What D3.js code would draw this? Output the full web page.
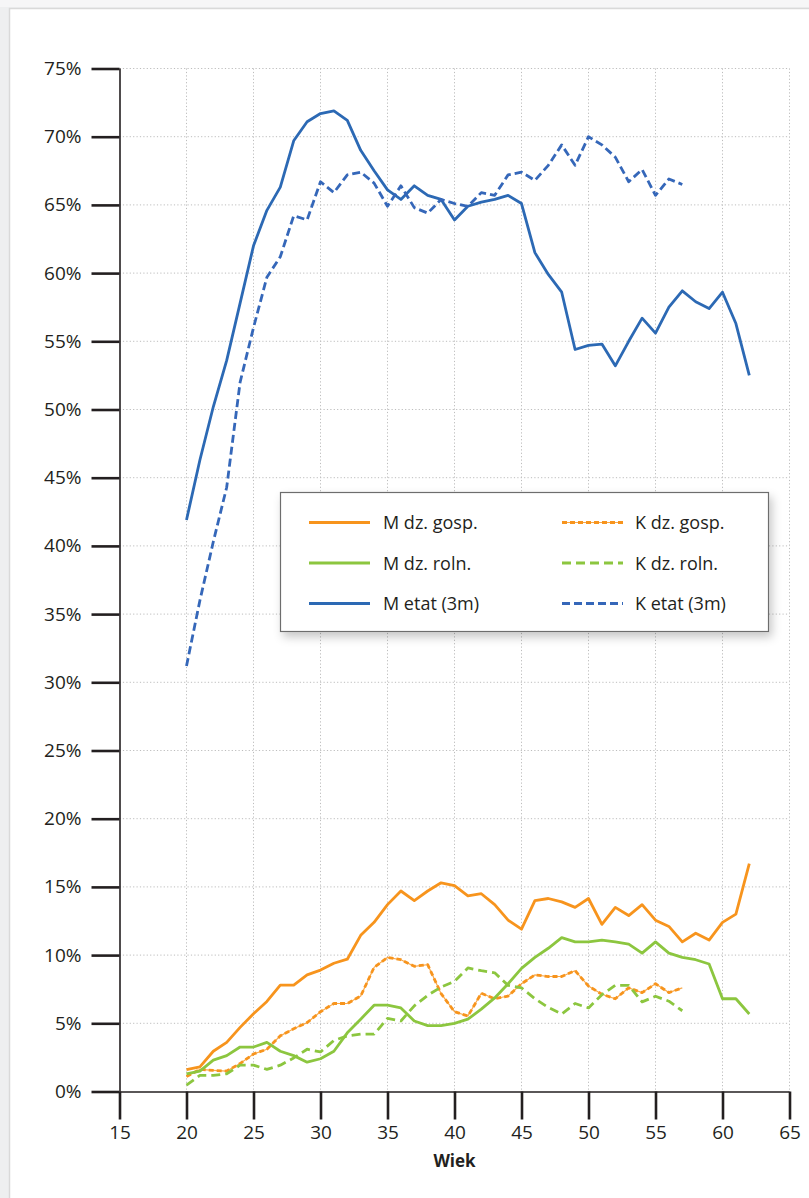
<!DOCTYPE html>
<html>
<head>
<meta charset="utf-8">
<script src="https://cdn.jsdelivr.net/npm/d3@7"></script>
<style>
  html, body { margin: 0; padding: 0; background: #eeeff0; }
  svg { display: block; }
  text { font-family: "Open Sans", sans-serif; fill: #231f20; }
</style>
</head>
<body>
<div id="chart-area"></div>
<script>
// dane (udzial w %), wiek od 20
const ageStart = 20;
const mGosp = [1.6, 1.8, 2.95, 3.6, 4.7, 5.7, 6.6, 7.8, 7.8, 8.55, 8.9, 9.4, 9.7, 11.45, 12.4, 13.7, 14.7, 14.0, 14.7, 15.3, 15.1, 14.35, 14.5, 13.7, 12.56, 11.9, 14.0, 14.15, 13.9, 13.5, 14.15, 12.25, 13.5, 12.9, 13.7, 12.56, 12.1, 10.97, 11.6, 11.1, 12.4, 13.0, 16.7];
const kGosp = [1.1, 1.62, 1.55, 1.5, 2.05, 2.75, 3.1, 4.08, 4.6, 5.05, 5.85, 6.45, 6.45, 7.0, 9.1, 9.83, 9.66, 9.18, 9.3, 7.17, 5.85, 5.53, 7.2, 6.8, 7.0, 7.9, 8.55, 8.43, 8.43, 8.86, 7.73, 7.13, 6.8, 7.6, 7.25, 7.9, 7.25, 7.6];
const mRoln = [1.3, 1.5, 2.3, 2.63, 3.26, 3.26, 3.6, 2.95, 2.63, 2.15, 2.4, 2.95, 4.3, 5.3, 6.33, 6.33, 6.13, 5.17, 4.83, 4.83, 5.0, 5.3, 6.04, 6.86, 7.9, 9.03, 9.83, 10.5, 11.28, 10.97, 10.97, 11.1, 10.97, 10.8, 10.14, 10.97, 10.14, 9.83, 9.66, 9.35, 6.8, 6.8, 5.68];
const kRoln = [0.46, 1.18, 1.18, 1.3, 1.93, 1.93, 1.62, 1.93, 2.46, 3.1, 2.9, 3.74, 4.08, 4.2, 4.2, 5.36, 5.17, 6.28, 7.05, 7.66, 8.07, 9.06, 8.86, 8.7, 7.78, 7.6, 6.8, 6.16, 5.68, 6.45, 6.13, 7.1, 7.78, 7.78, 6.57, 6.98, 6.62, 5.92];
const mEtat = [41.9, 46.3, 50.2, 53.6, 57.8, 62.0, 64.6, 66.3, 69.7, 71.1, 71.7, 71.9, 71.2, 69.0, 67.5, 66.1, 65.4, 66.4, 65.7, 65.4, 63.9, 64.9, 65.2, 65.4, 65.7, 65.1, 61.5, 59.9, 58.6, 54.4, 54.7, 54.8, 53.2, 55.0, 56.7, 55.6, 57.5, 58.7, 57.9, 57.4, 58.6, 56.3, 52.5];
const kEtat = [31.2, 36.0, 40.3, 44.3, 52.0, 56.0, 59.7, 61.2, 64.2, 63.9, 66.7, 65.9, 67.2, 67.4, 66.6, 64.9, 66.4, 64.8, 64.4, 65.4, 65.1, 64.9, 65.9, 65.7, 67.2, 67.4, 66.8, 67.9, 69.4, 67.9, 70.0, 69.4, 68.5, 66.7, 67.6, 65.7, 66.9, 66.5];

const xTicks = [15, 20, 25, 30, 35, 40, 45, 50, 55, 60, 65];
const yTicks = [0, 5, 10, 15, 20, 25, 30, 35, 40, 45, 50, 55, 60, 65, 70, 75];

const orange = "#f7941d", green = "#8cc63f", blue = "#2c69b4", blue2 = "#3567b9";

// serie: nazwa, dane, kolor, styl
const series = [
  {name: "M dz. gosp.", values: mGosp, color: orange, dash: null},
  {name: "K dz. gosp.", values: kGosp, color: orange, dash: "5,3", thin: true},
  {name: "M dz. roln.", values: mRoln, color: green, dash: null},
  {name: "K dz. roln.", values: kRoln, color: green, dash: "9,5"},
  {name: "M etat (3m)", values: mEtat, color: blue, dash: null},
  {name: "K etat (3m)", values: kEtat, color: blue2, dash: "8,4"}
];

const W = 809, H = 1198;
let svg = d3.select("#chart-area").append("svg")
  .attr("width", W)
  .attr("height", H);

// cien pod legenda
let defs = svg.append("defs");
defs.append("filter").attr("id", "shadow")
  .attr("x", "-10%").attr("y", "-10%").attr("width", "130%").attr("height", "140%")
  .append("feDropShadow")
  .attr("dx", 3).attr("dy", 5).attr("stdDeviation", 5)
  .attr("flood-color", "#000").attr("flood-opacity", 0.22);

// tlo i karta
svg.append("rect").attr("width", W).attr("height", H).attr("fill", "#eeeff0");
svg.append("rect").attr("width", W).attr("height", 7).attr("fill", "#f6f6f7");
svg.append("rect")
  .attr("x", 9.5).attr("y", 8.5)
  .attr("width", W).attr("height", H)
  .attr("fill", "#fff")
  .attr("stroke", "#d9d9d9").attr("stroke-width", 1.5);

let x = d3.scaleLinear().domain([15, 65]).range([119.5, 789.5]);
let y = d3.scaleLinear().domain([0, 75]).range([1091.5, 68.5]);

// siatka
let grid = svg.append("g").attr("stroke", "#bdbdbd").attr("stroke-width", 1).attr("stroke-dasharray", "1.2,2.2");
grid.selectAll(".gx").data(xTicks.filter(d => d > 15)).enter()
  .append("line")
  .attr("x1", d => x(d)).attr("x2", d => x(d))
  .attr("y1", y(75)).attr("y2", y(0));
grid.selectAll(".gy").data(yTicks.filter(d => d > 0)).enter()
  .append("line")
  .attr("x1", x(15)).attr("x2", x(65))
  .attr("y1", d => y(d)).attr("y2", d => y(d));

// osie
let xAxis = d3.axisBottom(x).tickValues(xTicks).tickSize(28).tickPadding(6).tickFormat(d3.format("d"));
let yAxis = d3.axisLeft(y).tickValues(yTicks).tickSize(28).tickPadding(10).tickFormat(d => d + "%");

let gx = svg.append("g").attr("transform", `translate(0,${y(0)})`).call(xAxis);
let gy = svg.append("g").attr("transform", `translate(${x(15)},0)`).call(yAxis);

[gx, gy].forEach(g => {
  g.select(".domain").attr("stroke", "#231f20").attr("stroke-width", 1.6);
  g.selectAll(".tick line").attr("stroke", "#231f20").attr("stroke-width", 2.6);
  g.selectAll(".tick text")
    .attr("font-family", "Open Sans, sans-serif")
    .attr("font-size", 19)
    .attr("fill", "#231f20");
});
gy.select(".domain").attr("d", `M0.5,${y(75)}V${y(0)}`);
gx.select(".domain").attr("d", `M${x(15)},0.5H${x(65)}`);

svg.append("text")
  .attr("x", x(40)).attr("y", 1167)
  .attr("text-anchor", "middle")
  .attr("font-size", 17).attr("font-weight", "bold")
  .text("Wiek");

// linie
let line = d3.line()
  .x((d, i) => x(ageStart + i))
  .y(d => y(d));

let lines = svg.append("g").attr("fill", "none");
series.forEach(s => {
  if (s.thin) {
    lines.append("path").datum(s.values)
      .attr("d", line)
      .attr("stroke", s.color).attr("stroke-width", 1.2).attr("opacity", 0.8);
  }
  lines.append("path").datum(s.values)
    .attr("d", line)
    .attr("stroke", s.color)
    .attr("stroke-width", 2.8)
    .attr("stroke-linejoin", "round")
    .attr("stroke-dasharray", s.dash);
});

// legenda
let lg = svg.append("g");
lg.append("rect")
  .attr("x", 280.5).attr("y", 492.5)
  .attr("width", 488).attr("height", 139)
  .attr("fill", "#fff")
  .attr("stroke", "#6d6d6d").attr("stroke-width", 1.2)
  .attr("filter", "url(#shadow)");

let items = lg.selectAll(".item").data(series).enter()
  .append("g")
  .attr("transform", (d, i) => {
    let col = i % 2, row = Math.floor(i / 2);
    return `translate(${col === 0 ? 309 : 562},${522.5 + row * 40.5})`;
  });
items.filter(d => d.thin).append("line")
  .attr("x1", 0).attr("x2", 61)
  .attr("stroke", d => d.color).attr("stroke-width", 1.2).attr("opacity", 0.8);
items.append("line")
  .attr("x1", 0).attr("x2", 61)
  .attr("stroke", d => d.color)
  .attr("stroke-width", 3)
  .attr("stroke-dasharray", d => d.dash);
items.append("text")
  .attr("x", (d, i) => i % 2 === 0 ? 74 : 73)
  .attr("y", 6.5)
  .attr("font-size", 18)
  .text(d => d.name);
</script>
</body>
</html>
